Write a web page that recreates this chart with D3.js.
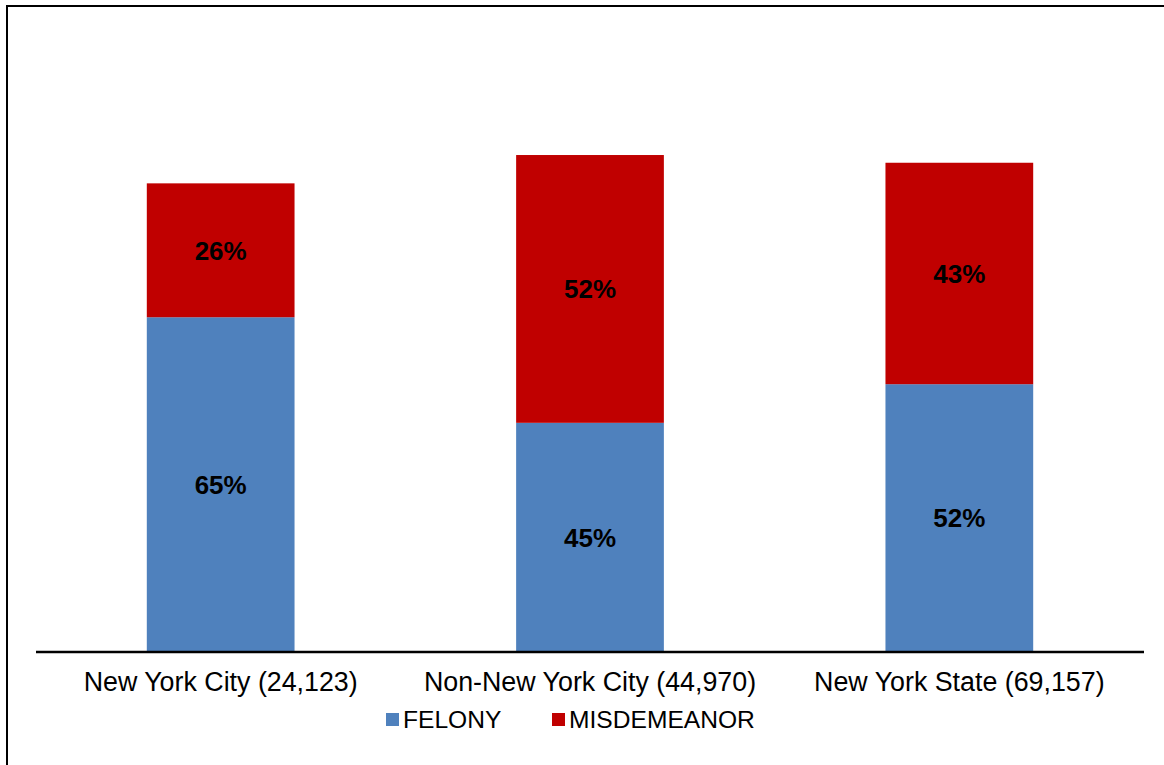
<!DOCTYPE html>
<html><head><meta charset="utf-8">
<script src="https://cdn.jsdelivr.net/npm/d3@7"></script>
<style>html,body{margin:0;padding:0;background:#fff;}svg{display:block;}</style>
</head><body>
<svg id="chart" width="1164" height="765"></svg>
<script>
const categories = ["New York City (24,123)", "Non-New York City (44,970)", "New York State (69,157)"];
const felony = [65, 44.5, 52];
const misdemeanor = [26, 52, 43];
const seriesNames = ["FELONY", "MISDEMEANOR"];
const colors = ["#4F81BD", "#C00000"];

const svg = d3.select("#chart");
const font = "'Liberation Sans', Arial, sans-serif";

// outer border
svg.append("rect").attr("x", 7).attr("y", 6).attr("width", 1164).attr("height", 800)
  .attr("fill", "none").attr("stroke", "#000").attr("stroke-width", 2);

const x = d3.scaleBand().domain(categories).range([36, 1144]).paddingInner(0.6).paddingOuter(0.3);
const y = d3.scaleLinear().domain([0, 100]).range([652, 137]);

const data = categories.map((c, i) => ({cat: c, FELONY: felony[i], MISDEMEANOR: misdemeanor[i]}));
const stack = d3.stack().keys(seriesNames)(data);

const g = svg.append("g");
stack.forEach((s, si) => {
  g.selectAll(null).data(s).enter().append("rect")
    .attr("x", d => x(d.data.cat))
    .attr("width", x.bandwidth())
    .attr("y", d => y(d[1]))
    .attr("height", d => y(d[0]) - y(d[1]))
    .attr("fill", colors[si]);
  g.selectAll(null).data(s).enter().append("text")
    .attr("x", d => x(d.data.cat) + x.bandwidth() / 2)
    .attr("y", d => (y(d[0]) + y(d[1])) / 2)
    .attr("dy", "0.36em")
    .attr("text-anchor", "middle")
    .attr("font-family", font).attr("font-weight", "bold").attr("font-size", 26)
    .attr("fill", "#000")
    .text(d => Math.round(d[1] - d[0]) + "%");
});

// x axis
const xAxis = svg.append("g").attr("transform", "translate(0,652)")
  .call(d3.axisBottom(x).tickSize(0));
xAxis.select(".domain").attr("stroke", "#000").attr("stroke-width", 2.5).attr("d", "M36,0H1144");
xAxis.selectAll("text").attr("y", 39).attr("dy", 0)
  .attr("font-family", font).attr("font-size", 26.8).attr("fill", "#000");

// legend
const legendPos = [386, 552];
const lg = svg.append("g");
seriesNames.forEach((n, i) => {
  lg.append("rect").attr("x", legendPos[i]).attr("y", 713).attr("width", 13).attr("height", 13).attr("fill", colors[i]);
  lg.append("text").attr("x", legendPos[i] + 17).attr("y", 728)
    .attr("font-family", font).attr("font-size", 24.6).attr("fill", "#000").text(n);
});
</script>
</body></html>
